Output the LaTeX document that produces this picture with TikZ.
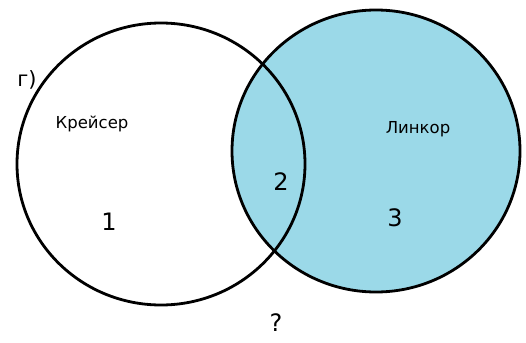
\documentclass[tikz,border=0pt]{standalone}
\usepackage{fontspec}
\setmainfont{DejaVu Sans}
\definecolor{venn}{HTML}{9BD9E8}
\begin{document}
\begin{tikzpicture}[x=1pt,y=-1pt,
  ring/.style={draw=black,line width=2.8pt},
  lbl/.style={font=\fontsize{16.5}{18}\selectfont,inner sep=0pt},
  num/.style={font=\fontsize{24}{26}\selectfont,inner sep=0pt}]
\useasboundingbox (0,0) rectangle (526,342);
\fill[venn] (376,151) ellipse [x radius=144, y radius=141];
\draw[ring] (161,164) ellipse [x radius=144, y radius=141];
\draw[ring] (376,151) ellipse [x radius=144, y radius=141];
\node[lbl,font=\fontsize{21}{23}\selectfont] (g) at (27,80) {г)};
\node[lbl] (kr) at (92,124) {Крейсер};
\node[lbl] (li) at (418,129) {Линкор};
\node[num] (n1) at (109,222) {1};
\node[num] (n2) at (281,182) {2};
\node[num] (n3) at (395,218) {3};
\node[num] (q) at (276,323) {?};
\end{tikzpicture}
\end{document}
